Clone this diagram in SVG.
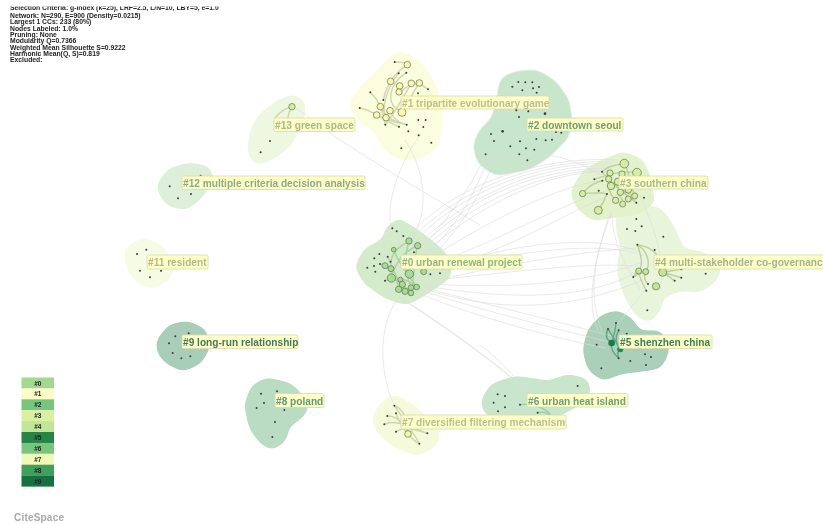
<svg xmlns="http://www.w3.org/2000/svg" width="823" height="524" viewBox="0 0 823 524">
<defs>
<filter id="soft" x="-5%" y="-5%" width="110%" height="110%"><feGaussianBlur stdDeviation="0.35"/></filter>
<filter id="round" x="-25%" y="-25%" width="150%" height="150%" color-interpolation-filters="sRGB"><feGaussianBlur stdDeviation="14"/><feComponentTransfer><feFuncA type="linear" slope="14" intercept="-5.5"/></feComponentTransfer></filter>
</defs>
<style>
text{font-family:"Liberation Sans",Arial,sans-serif;font-weight:700}
.hull polygon{stroke-width:26;stroke-linejoin:round;filter:url(#round)}
.d{fill:#3d3d3d}
.d circle{r:3px}
.b circle,circle.b{stroke:#5a6a4e;stroke-width:2}
.e path{fill:none;stroke:#dcdcdc;stroke-width:.8;opacity:.8}
.w path{fill:none;stroke-width:4.2;opacity:.6}
.lb{fill:#ffffc8;stroke:#d8d8a8;stroke-width:.8}
.lt{font-size:10.15px}
.hd{font-size:6.8px;fill:#222}
.lg{font-size:6.5px;fill:#222;text-anchor:middle}
</style>
<rect width="823" height="524" fill="#fff"/>
<g filter="url(#soft)">
<g id="hulls" class="hull">
<polygon transform="translate(350 210) scale(.3333)" fill="#d4ebcb" stroke="#d4ebcb" points="145,40 190,68 230,98 275,135 292,190 265,212 220,242 170,270 112,252 55,212 30,170 55,126 112,98 118,65"/>
<polygon transform="translate(340 40) scale(.3333)" fill="#fbfddf" stroke="#fbfddf" points="185,48 235,78 272,135 292,200 292,260 282,312 240,342 182,346 138,314 118,266 66,234 40,195 76,146 135,88 165,54"/>
<polygon transform="translate(340 40) scale(.3333)" fill="#c8e6cb" stroke="#c8e6cb" points="496,122 532,108 588,104 634,132 672,182 682,240 672,286 616,342 558,376 472,392 428,364 414,320 428,282 468,241 484,192 490,142"/>
<polygon transform="translate(560 150) scale(.3333)" fill="#e9f5db" stroke="#e9f5db" points="183,196 240,178 296,188 322,224 350,282 354,308 420,318 467,345 462,380 418,412 360,407 298,432 287,478 264,502 236,484 208,436 188,378 188,332 198,290 183,240"/>
<polygon transform="translate(560 150) scale(.3333)" fill="#e3f2cd" stroke="#e3f2cd" points="190,20 236,38 257,82 262,130 272,148 238,177 170,187 102,197 66,170 46,130 76,76 122,48"/>
<polygon transform="translate(560 150) scale(.3333)" fill="#aad0ba" stroke="#aad0ba" points="132,508 170,496 206,516 232,558 296,556 314,600 294,642 228,652 180,657 130,677 96,650 83,600 97,545"/>
<polygon transform="translate(360 370) scale(.3333)" fill="#c8e6cb" stroke="#c8e6cb" points="378,92 404,53 470,33 570,48 622,28 672,38 677,68 636,102 578,132 500,142 412,137 383,118"/>
<polygon transform="translate(360 370) scale(.3333)" fill="#f6fadd" stroke="#f6fadd" points="100,88 146,112 194,154 227,200 206,227 170,242 114,222 66,184 50,150 66,116"/>
<polygon transform="translate(150 315) scale(.3333)" fill="#b9dcc3" stroke="#b9dcc3" points="298,270 316,222 352,203 416,218 462,266 452,294 402,329 397,366 368,389 344,378 312,335"/>
<polygon transform="translate(150 315) scale(.3333)" fill="#a9cdb9" stroke="#a9cdb9" points="33,82 64,43 110,33 154,52 167,90 144,133 100,154 56,133 36,108"/>
<polygon transform="translate(120 90) scale(.3333)" fill="#f6fbe6" stroke="#f6fbe6" points="28,482 72,458 116,477 147,522 142,555 98,582 59,567 33,528"/>
<polygon transform="translate(120 90) scale(.3333)" fill="#dcefd9" stroke="#dcefd9" points="154,248 210,233 258,242 267,268 235,313 198,344 154,337 133,312 126,286"/>
<polygon transform="translate(120 90) scale(.3333)" fill="#eef7e0" stroke="#eef7e0" points="474,47 520,28 542,44 537,88 504,154 458,192 414,210 398,188 403,132 426,86"/>
</g>
<g id="connectors">
<g class="e">
<path d="M412 245C450 200 530 160 612 164"/>
<path d="M415 248C460 200 535 163 611 166"/>
<path d="M418 250C470 195 540 168 610 168"/>
<path d="M422 250C475 200 545 170 608 170"/>
<path d="M425 252C480 205 550 170 606 172"/>
<path d="M405 240C450 185 540 155 618 160"/>
<path d="M408 243C455 190 535 158 615 162"/>
<path d="M430 258C500 215 560 185 606 180"/>
<path d="M440 262C510 235 570 200 610 190"/>
<path d="M445 268C520 245 580 205 612 195"/>
<path d="M432 270C520 240 600 235 640 252"/>
<path d="M440 272C520 250 600 240 645 256"/>
<path d="M425 286C510 300 590 300 636 272"/>
<path d="M428 290C520 320 600 300 646 278"/>
<path d="M432 284C520 290 600 280 642 262"/>
<path d="M430 282C500 265 590 250 640 248"/>
<path d="M436 280C510 272 590 262 638 266"/>
<path d="M420 290C480 310 560 330 610 342"/>
<path d="M415 292C470 315 560 340 606 348"/>
<path d="M425 288C490 305 570 325 612 336"/>
<path d="M400 298C450 330 520 380 548 412"/>
<path d="M404 300C460 335 525 385 552 414"/>
<path d="M398 298C375 330 382 380 394 405"/>
<path d="M420 135C395 170 385 210 392 232"/>
<path d="M405 140C425 170 430 210 412 238"/>
<path d="M296 108C350 150 420 190 480 225"/>
<path d="M486 154C470 190 440 230 418 250"/>
<path d="M490 152C478 190 455 230 425 255"/>
<path d="M495 160C480 195 460 230 430 258"/>
<path d="M480 164Q560 130 640 205"/>
<path d="M640 195C650 220 668 260 660 290"/>
<path d="M610 212C595 260 585 300 598 330"/>
<path d="M612 212C590 265 590 300 602 332"/>
<path d="M612 215C612 240 625 265 640 290"/>
<path d="M645 290C630 310 620 320 612 330"/>
<path d="M530 400C520 380 500 360 480 345"/>
</g>
<g class="w" stroke="#b9bd8a">
<path transform="translate(340 40) scale(.3333)" d="M164 66C185 66 200 68 202 74M202 74C170 95 140 130 130 180M199 98C150 130 130 190 186 217M176 100C135 150 125 210 138 233M264 148C220 110 190 150 178 160M91 157C115 180 125 200 136 254M59 204C100 210 125 240 177 260M110 225C130 235 170 250 200 254M121 200C140 235 170 250 200 254M150 212C160 235 180 250 200 254M214 130C190 170 170 210 136 254M238 129C210 170 195 210 186 217"/>
</g>
<g class="w" stroke="#8fc07f">
<path transform="translate(350 210) scale(.3333)" d="M177 93C150 110 130 120 122 155M203 107C165 125 140 145 124 204M131 119C150 170 180 200 200 231M177 93C160 150 170 200 183 233M203 107C190 150 195 200 183 249M113 140C130 180 150 225 165 244M105 212C150 200 180 210 200 231M124 204C150 215 170 235 183 249M90 162C120 170 140 200 146 238"/>
</g>
<g class="w" stroke="#a2b87a">
<path transform="translate(560 150) scale(.3333)" d="M193 41C160 45 135 55 126 65M231 68C190 60 150 70 103 88M68 131C90 105 100 100 127 92M68 131C100 130 120 125 141 132M115 181C125 165 135 150 140 132M193 41C210 70 210 100 224 138M150 69C140 95 140 120 167 151M186 72C170 100 170 130 188 150M174 95C185 120 200 130 205 147M126 65C150 100 190 130 229 158M146 87C170 110 200 130 224 138"/>
<path transform="translate(560 150) scale(.3333)" d="M232 284C260 300 275 340 257 365M232 284C245 320 250 345 236 363M232 284C265 290 285 300 300 330M236 363C228 370 222 375 220 381M257 365C245 370 228 375 220 381M236 363C238 385 250 405 259 422M257 365C250 380 255 395 264 402M308 367C325 365 345 360 364 358M308 367C325 372 345 378 364 383M308 367C320 375 335 385 344 392"/>
</g>
<g class="w" stroke="#2e8a58">
<path transform="translate(560 150) scale(.3333)" d="M168 519C165 545 160 565 155 579M144 537C155 555 170 580 181 598M176 541C165 560 165 580 181 598M155 579C150 600 165 615 176 625M181 598C170 605 172 615 176 625M144 537C135 555 140 570 155 579"/>
</g>
<g class="w" stroke="#b9bd8a">
<path transform="translate(360 370) scale(.3333)" d="M103 107C125 115 140 135 144 192M82 138C110 138 130 155 144 192M73 163C100 150 130 160 202 190M108 185C130 170 155 175 202 190M108 130C120 160 135 185 144 192M144 192C155 205 165 215 178 221M178 221C165 195 150 175 103 107"/>
<path transform="translate(120 90) scale(.3333)" d="M516 50C495 55 478 68 464 85M516 50C508 62 505 75 503 85"/>
<path transform="translate(360 370) scale(.3333)" stroke="#7fbb8b" d="M480 104C510 100 555 110 572 135M533 128C545 125 560 128 568 135"/>
</g>
</g>
<g id="c0">
<g transform="translate(350 210) scale(.3333)"><g class="d"><circle cx="127" cy="55"/><circle cx="140" cy="64"/><circle cx="160" cy="78"/><circle cx="88" cy="132"/><circle cx="73" cy="145"/><circle cx="72" cy="168"/><circle cx="52" cy="173"/><circle cx="76" cy="185"/><circle cx="90" cy="162"/><circle cx="113" cy="140"/><circle cx="122" cy="155"/><circle cx="192" cy="127"/><circle cx="241" cy="193"/><circle cx="270" cy="190"/><circle cx="105" cy="212"/></g>
<g class="b" fill="#a6dc95"><circle cx="177" cy="93" r="9.500"/><circle cx="203" cy="107" r="9.500"/><circle cx="131" cy="119" r="7"/><circle cx="105" cy="167" r="9"/><circle cx="123" cy="176" r="9"/><circle cx="178" cy="192" r="12.500"/><circle cx="124" cy="204" r="12.500"/><circle cx="151" cy="209" r="7.500"/><circle cx="157" cy="223" r="9.500"/><circle cx="146" cy="238" r="9.500"/><circle cx="165" cy="244" r="9.500"/><circle cx="183" cy="233" r="8.500"/><circle cx="200" cy="231" r="8.500"/><circle cx="183" cy="249" r="8.500"/><circle cx="221" cy="185" r="9"/></g></g>
<rect class="lb" x="401" y="255" width="121" height="14" rx="1.5"/><text class="lt" x="402" y="266" fill="#8fb784">#0 urban renewal project</text>
</g>
<g id="c1">
<g transform="translate(340 40) scale(.3333)"><g class="d"><circle cx="164" cy="66"/><circle cx="91" cy="157"/><circle cx="59" cy="204"/><circle cx="130" cy="180"/><circle cx="199" cy="98"/><circle cx="176" cy="100"/><circle cx="264" cy="148"/><circle cx="234" cy="160"/><circle cx="136" cy="254"/><circle cx="177" cy="260"/><circle cx="200" cy="254"/><circle cx="205" cy="274"/><circle cx="235" cy="240"/><circle cx="257" cy="240"/><circle cx="250" cy="261"/><circle cx="236" cy="286"/><circle cx="274" cy="308"/><circle cx="184" cy="325"/></g>
<g class="b" fill="#fbf9b0"><circle cx="202" cy="74" r="10"/><circle cx="152" cy="124" r="10"/><circle cx="179" cy="138" r="10"/><circle cx="177" cy="156" r="9.500"/><circle cx="214" cy="130" r="10"/><circle cx="238" cy="129" r="10"/><circle cx="121" cy="200" r="10"/><circle cx="150" cy="212" r="10"/><circle cx="110" cy="225" r="10"/><circle cx="138" cy="233" r="10"/><circle cx="186" cy="217" r="12"/></g></g>
<rect class="lb" x="401" y="96" width="148" height="13" rx="1.5"/><text class="lt" x="402" y="107" fill="#bdbd8f">#1 tripartite evolutionary game</text>
</g>
<g id="c2">
<g transform="translate(340 40) scale(.3333)" class="d"><circle cx="535" cy="126"/><circle cx="556" cy="127"/><circle cx="577" cy="127"/><circle cx="517" cy="140"/><circle cx="597" cy="141"/><circle cx="547" cy="151"/><circle cx="579" cy="145"/><circle cx="590" cy="158"/><circle cx="529" cy="211"/><circle cx="565" cy="214"/><circle cx="615" cy="221" style="r:4px"/><circle cx="537" cy="231"/><circle cx="453" cy="282"/><circle cx="488" cy="274" style="r:4px"/><circle cx="462" cy="303"/><circle cx="540" cy="304"/><circle cx="589" cy="297"/><circle cx="617" cy="301"/><circle cx="636" cy="299"/><circle cx="648" cy="276"/><circle cx="664" cy="278"/><circle cx="511" cy="319"/><circle cx="558" cy="325"/><circle cx="583" cy="329"/><circle cx="538" cy="343"/><circle cx="437" cy="343"/><circle cx="562" cy="361"/></g>
<rect class="lb" x="527" y="118" width="96" height="13" rx="1.5"/><text class="lt" x="528" y="129" fill="#6f9f75">#2 downtown seoul</text>
</g>
<g id="c3">
<g transform="translate(560 150) scale(.3333)"><g class="d"><circle cx="126" cy="65"/><circle cx="103" cy="88"/><circle cx="127" cy="92"/><circle cx="141" cy="132"/><circle cx="116" cy="122"/><circle cx="252" cy="143"/><circle cx="229" cy="158"/></g>
<g class="b" fill="#d5ee9f"><circle cx="193" cy="41" r="13"/><circle cx="231" cy="68" r="13"/><circle cx="150" cy="69" r="9.500"/><circle cx="186" cy="72" r="9.500"/><circle cx="146" cy="87" r="9.500"/><circle cx="174" cy="95" r="11"/><circle cx="153" cy="108" r="11"/><circle cx="68" cy="131" r="9.500"/><circle cx="115" cy="181" r="12"/><circle cx="181" cy="127" r="9.500"/><circle cx="205" cy="120" r="9.500"/><circle cx="224" cy="138" r="9"/><circle cx="205" cy="147" r="9"/><circle cx="188" cy="162" r="9"/><circle cx="167" cy="151" r="9.500"/></g></g>
<rect class="lb" x="619" y="176" width="89" height="13" rx="1.5"/><text class="lt" x="620" y="187" fill="#a9b98c">#3 southern china</text>
</g>
<g id="c4">
<g transform="translate(560 150) scale(.3333)"><g class="d"><circle cx="229" cy="207"/><circle cx="201" cy="237"/><circle cx="226" cy="243"/><circle cx="245" cy="229"/><circle cx="310" cy="260"/><circle cx="232" cy="284"/><circle cx="284" cy="300"/><circle cx="364" cy="358"/><circle cx="364" cy="383"/><circle cx="344" cy="392"/><circle cx="220" cy="381"/><circle cx="264" cy="402"/><circle cx="259" cy="422"/><circle cx="262" cy="481"/><circle cx="437" cy="371"/></g>
<g class="b" fill="#c4e69a"><circle cx="236" cy="363" r="9"/><circle cx="257" cy="365" r="9"/><circle cx="308" cy="367" r="12"/><circle cx="288" cy="409" r="11"/></g></g>
<rect class="lb" x="654" y="255" width="172" height="14" rx="1.5"/><text class="lt" x="655" y="266" fill="#a5b58e">#4 multi-stakeholder co-governance</text>
</g>
<g id="c5">
<g transform="translate(560 150) scale(.3333)"><g class="d"><circle cx="168" cy="519"/><circle cx="144" cy="537"/><circle cx="176" cy="541"/><circle cx="200" cy="551"/><circle cx="110" cy="584"/><circle cx="176" cy="625"/><circle cx="211" cy="633"/><circle cx="255" cy="613"/><circle cx="273" cy="621"/><circle cx="258" cy="645"/><circle cx="124" cy="655"/></g>
<circle cx="155" cy="579" r="10" fill="#1f7a4a"/><circle cx="181" cy="598" r="9" fill="#1f8a50"/></g>
<rect class="lb" x="619" y="335" width="93" height="13.5" rx="1.5"/><text class="lt" x="620" y="346" fill="#3f7d57">#5 shenzhen china</text>
</g>
<g id="c6">
<g transform="translate(360 370) scale(.3333)" class="d"><circle cx="413" cy="73"/><circle cx="435" cy="78"/><circle cx="401" cy="98"/><circle cx="435" cy="112"/><circle cx="414" cy="124"/><circle cx="480" cy="104"/><circle cx="533" cy="128"/><circle cx="653" cy="48"/></g>
<rect class="lb" x="527" y="393.500" width="101" height="13.500" rx="1.5"/><text class="lt" x="528" y="404.500" fill="#6f9f75">#6 urban heat island</text>
</g>
<g id="c7">
<g transform="translate(360 370) scale(.3333)"><g class="d"><circle cx="103" cy="107"/><circle cx="82" cy="138"/><circle cx="108" cy="130"/><circle cx="73" cy="163"/><circle cx="108" cy="185"/><circle cx="202" cy="190"/><circle cx="178" cy="221"/></g>
<circle class="b" cx="144" cy="192" r="10" fill="#f0f7a8"/></g>
<rect class="lb" x="401" y="415" width="165" height="14" rx="1.5"/><text class="lt" x="402" y="426" fill="#bcbf90">#7 diversified filtering mechanism</text>
</g>
<g id="c8">
<g transform="translate(150 315) scale(.3333)" class="d"><circle cx="333" cy="236"/><circle cx="381" cy="229"/><circle cx="342" cy="264"/><circle cx="320" cy="279"/><circle cx="403" cy="285"/><circle cx="375" cy="321"/><circle cx="367" cy="366"/></g>
<rect class="lb" x="275" y="393.500" width="49" height="14" rx="1.5"/><text class="lt" x="276" y="404.500" fill="#5f9a72">#8 poland</text>
</g>
<g id="c9">
<g transform="translate(150 315) scale(.3333)" class="d"><circle cx="76" cy="64"/><circle cx="116" cy="55"/><circle cx="57" cy="85"/><circle cx="68" cy="114"/><circle cx="94" cy="130"/><circle cx="121" cy="124"/></g>
<rect class="lb" x="182" y="335" width="116" height="13.500" rx="1.5"/><text class="lt" x="183" y="346" fill="#47785c">#9 long-run relationship</text>
</g>
<g id="c11">
<g transform="translate(120 90) scale(.3333)" class="d"><circle cx="51" cy="492"/><circle cx="79" cy="479"/><circle cx="60" cy="542"/><circle cx="123" cy="542"/><circle cx="90" cy="562"/></g>
<rect class="lb" x="147" y="255" width="61" height="14" rx="1.5"/><text class="lt" x="148" y="266" fill="#b5b98a">#11 resident</text>
</g>
<g id="c12">
<g transform="translate(120 90) scale(.3333)" class="d"><circle cx="149" cy="289"/><circle cx="174" cy="325"/><circle cx="213" cy="312"/><circle cx="242" cy="257"/></g>
<rect class="lb" x="182" y="176" width="183" height="13.500" rx="1.5"/><text class="lt" x="183" y="187" fill="#8dab88">#12 multiple criteria decision analysis</text>
</g>
<g id="c13">
<g transform="translate(120 90) scale(.3333)"><g class="d"><circle cx="450" cy="153"/><circle cx="422" cy="187"/></g><circle class="b" cx="516" cy="50" r="9.500" fill="#d5ee9f"/></g>
<rect class="lb" x="274" y="118" width="81" height="13.500" rx="1.5"/><text class="lt" x="275" y="129" fill="#a9b98c">#13 green space</text>
</g>
<g id="info">
<text class="hd" x="10" y="10">Selection Criteria: g-index (k=25), LRF=2.5, L/N=10, LBY=5, e=1.0</text>
<rect x="0" y="0" width="240" height="6.500" fill="#fff"/>
<text class="hd" x="10" y="17.500">Network: N=290, E=900 (Density=0.0215)</text>
<text class="hd" x="10" y="24">Largest 1 CCs: 233 (80%)</text>
<text class="hd" x="10" y="30.500">Nodes Labeled: 1.0%</text>
<text class="hd" x="10" y="36.800">Pruning: None</text>
<text class="hd" x="10" y="43.200">Modularity Q=0.7366</text>
<text class="hd" x="10" y="49.500">Weighted Mean Silhouette S=0.9222</text>
<text class="hd" x="10" y="56">Harmonic Mean(Q, S)=0.819</text>
<text class="hd" x="10" y="62.400">Excluded:</text>
</g>
<g id="legend">
<rect x="21.500" y="377.500" width="32.500" height="11" fill="#a1d98f"/><rect x="21.500" y="388.400" width="32.500" height="11" fill="#fbfcc8"/><rect x="21.500" y="399.300" width="32.500" height="11" fill="#78c67d"/><rect x="21.500" y="410.200" width="32.500" height="11" fill="#d9f0a3"/><rect x="21.500" y="421.100" width="32.500" height="11" fill="#c2e699"/><rect x="21.500" y="432" width="32.500" height="11" fill="#278447"/><rect x="21.500" y="442.900" width="32.500" height="11" fill="#78c67d"/><rect x="21.500" y="453.800" width="32.500" height="11" fill="#f0f9b8"/><rect x="21.500" y="464.700" width="32.500" height="11" fill="#3f9f5b"/><rect x="21.500" y="475.600" width="32.500" height="11" fill="#127041"/>
<text class="lg" x="37.800" y="385.500">#0</text><text class="lg" x="37.800" y="396.400">#1</text><text class="lg" x="37.800" y="407.300">#2</text><text class="lg" x="37.800" y="418.200">#3</text><text class="lg" x="37.800" y="429.100">#4</text><text class="lg" x="37.800" y="440">#5</text><text class="lg" x="37.800" y="450.900">#6</text><text class="lg" x="37.800" y="461.800">#7</text><text class="lg" x="37.800" y="472.700">#8</text><text class="lg" x="37.800" y="483.600">#9</text>
</g>
<text id="logo" x="14" y="521" font-size="10" letter-spacing=".2" fill="#a8a8a8">CiteSpace</text>
</g>
</svg>
